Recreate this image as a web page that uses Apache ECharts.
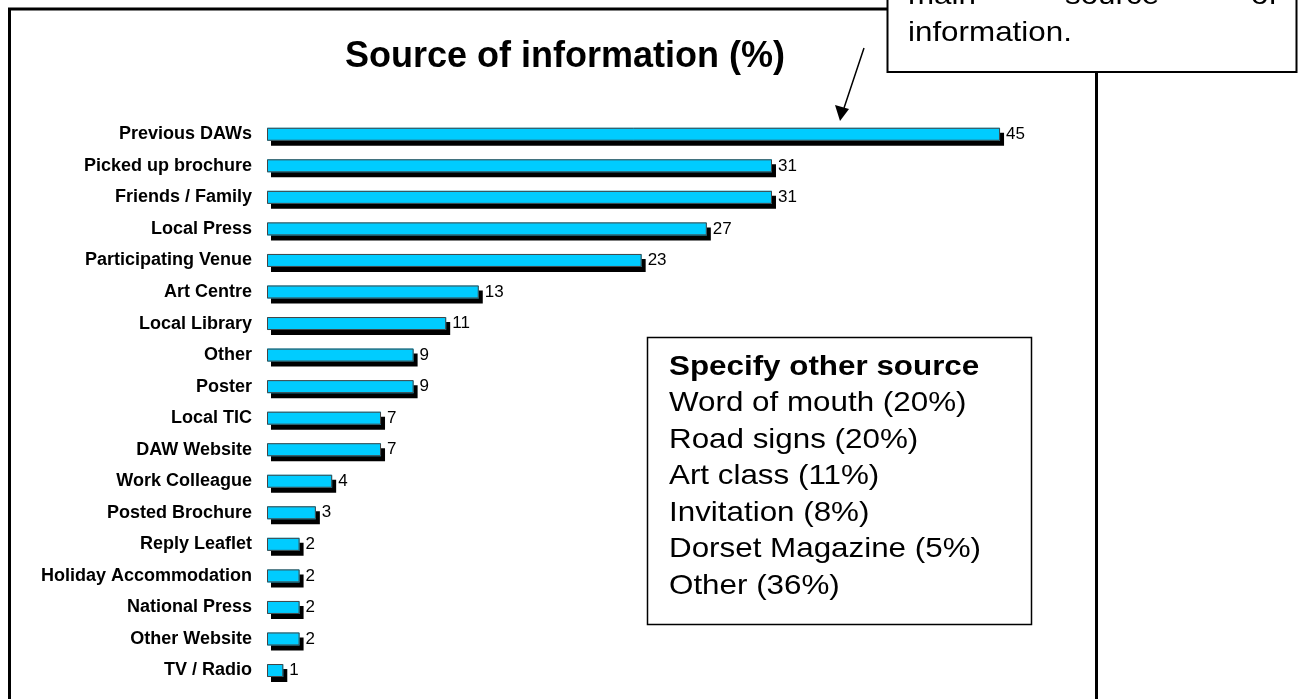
<!DOCTYPE html>
<html>
<head>
<meta charset="utf-8">
<script src="https://cdn.jsdelivr.net/npm/echarts@6/dist/echarts.min.js"></script>
<style>
  html, body { margin: 0; padding: 0; background: #fff; }
  #chart { width: 1302px; height: 699px; }
</style>
</head>
<body>
<div id="chart"></div>
<script>
const categories = [
  'Previous DAWs', 'Picked up brochure', 'Friends / Family', 'Local Press',
  'Participating Venue', 'Art Centre', 'Local Library', 'Other', 'Poster',
  'Local TIC', 'DAW Website', 'Work Colleague', 'Posted Brochure',
  'Reply Leaflet', 'Holiday Accommodation', 'National Press', 'Other Website',
  'TV / Radio'
];
const values = [45, 31, 31, 27, 23, 13, 11, 9, 9, 7, 7, 4, 3, 2, 2, 2, 2, 1];

const otherTitle = 'Specify other source';
const otherSources = [
  'Word of mouth (20%)', 'Road signs (20%)', 'Art class (11%)',
  'Invitation (8%)', 'Dorset Magazine (5%)', 'Other (36%)'
];

const font = 'Arial, "Liberation Sans", sans-serif';
const chart = echarts.init(document.getElementById('chart'));

// note box lines
const noteText = [{
  type: 'text', x: 669, y: 367.5, scaleX: 1.12,
  style: { text: otherTitle, font: 'bold 28px ' + font, fill: '#000', verticalAlign: 'middle' }
}];
otherSources.forEach(function (t, i) {
  noteText.push({
    type: 'text', x: 669, y: 403.5 + i * 36.5, scaleX: 1.12,
    style: { text: t, font: '28px ' + font, fill: '#000', verticalAlign: 'middle' }
  });
});

const option = {
  animation: false,
  title: {
    text: 'Source of information (%)',
    left: 345,
    top: 39,
    padding: 0,
    textStyle: { fontFamily: font, fontSize: 36, fontWeight: 'bold', color: '#000' }
  },
  grid: { left: 267, right: 220.5, top: 118.5, bottom: 12.7 },
  xAxis: {
    type: 'value', min: 0, max: 50, show: false
  },
  yAxis: {
    type: 'category',
    inverse: true,
    data: categories,
    axisLine: { show: false },
    axisTick: { show: false },
    axisLabel: {
      margin: 15,
      fontFamily: font,
      fontSize: 18,
      fontWeight: 'bold',
      color: '#000'
    }
  },
  series: [
    // filled bars with the black drop shadow
    {
      type: 'bar',
      data: values,
      barWidth: 13,
      itemStyle: {
        color: '#00CCFF',
        borderWidth: 0,
        shadowColor: '#000',
        shadowBlur: 0,
        shadowOffsetX: 4,
        shadowOffsetY: 5
      },
      emphasis: { disabled: true },
      silent: true
    },
    // thin outline drawn over the same bars, plus value labels
    {
      type: 'bar',
      data: values,
      barWidth: 13,
      barGap: '-100%',
      itemStyle: {
        color: 'rgba(0,0,0,0)',
        borderColor: '#444',
        borderWidth: 1
      },
      emphasis: { disabled: true },
      label: {
        show: true,
        position: 'right',
        distance: 6,
        fontFamily: font,
        fontSize: 17,
        color: '#000'
      }
    }
  ],
  graphic: [
    // outer frame
    {
      type: 'polyline',
      shape: { points: [[9.5, 710], [9.5, 9], [890, 9]] },
      style: { stroke: '#000', lineWidth: 3, fill: null }
    },
    {
      type: 'line',
      shape: { x1: 1096.5, y1: 70, x2: 1096.5, y2: 710 },
      style: { stroke: '#000', lineWidth: 3 }
    },
    // callout box at the top
    {
      type: 'rect',
      shape: { x: 887.5, y: -60, width: 409, height: 132 },
      style: { fill: '#fff', stroke: '#000', lineWidth: 2 }
    },
    {
      type: 'text', x: 908, y: -4, scaleX: 1.12,
      style: { text: 'main', font: '28px ' + font, fill: '#000', verticalAlign: 'middle' }
    },
    {
      type: 'text', x: 1065, y: -4, scaleX: 1.12,
      style: { text: 'source', font: '28px ' + font, fill: '#000', verticalAlign: 'middle' }
    },
    {
      type: 'text', x: 1251, y: -4, scaleX: 1.12,
      style: { text: 'of', font: '28px ' + font, fill: '#000', verticalAlign: 'middle' }
    },
    {
      type: 'text', x: 908, y: 33, scaleX: 1.12,
      style: { text: 'information.', font: '28px ' + font, fill: '#000', verticalAlign: 'middle' }
    },
    // arrow
    {
      type: 'line',
      shape: { x1: 864, y1: 48, x2: 844, y2: 108 },
      style: { stroke: '#000', lineWidth: 1.5 }
    },
    {
      type: 'polygon',
      shape: { points: [[840, 121], [835, 105], [849, 109]] },
      style: { fill: '#000' }
    },
    // other source box
    {
      type: 'rect',
      shape: { x: 647.5, y: 337.5, width: 384, height: 287 },
      style: { fill: '#fff', stroke: '#000', lineWidth: 1.5 }
    }
  ].concat(noteText)
};

chart.setOption(option);
</script>
</body>
</html>
